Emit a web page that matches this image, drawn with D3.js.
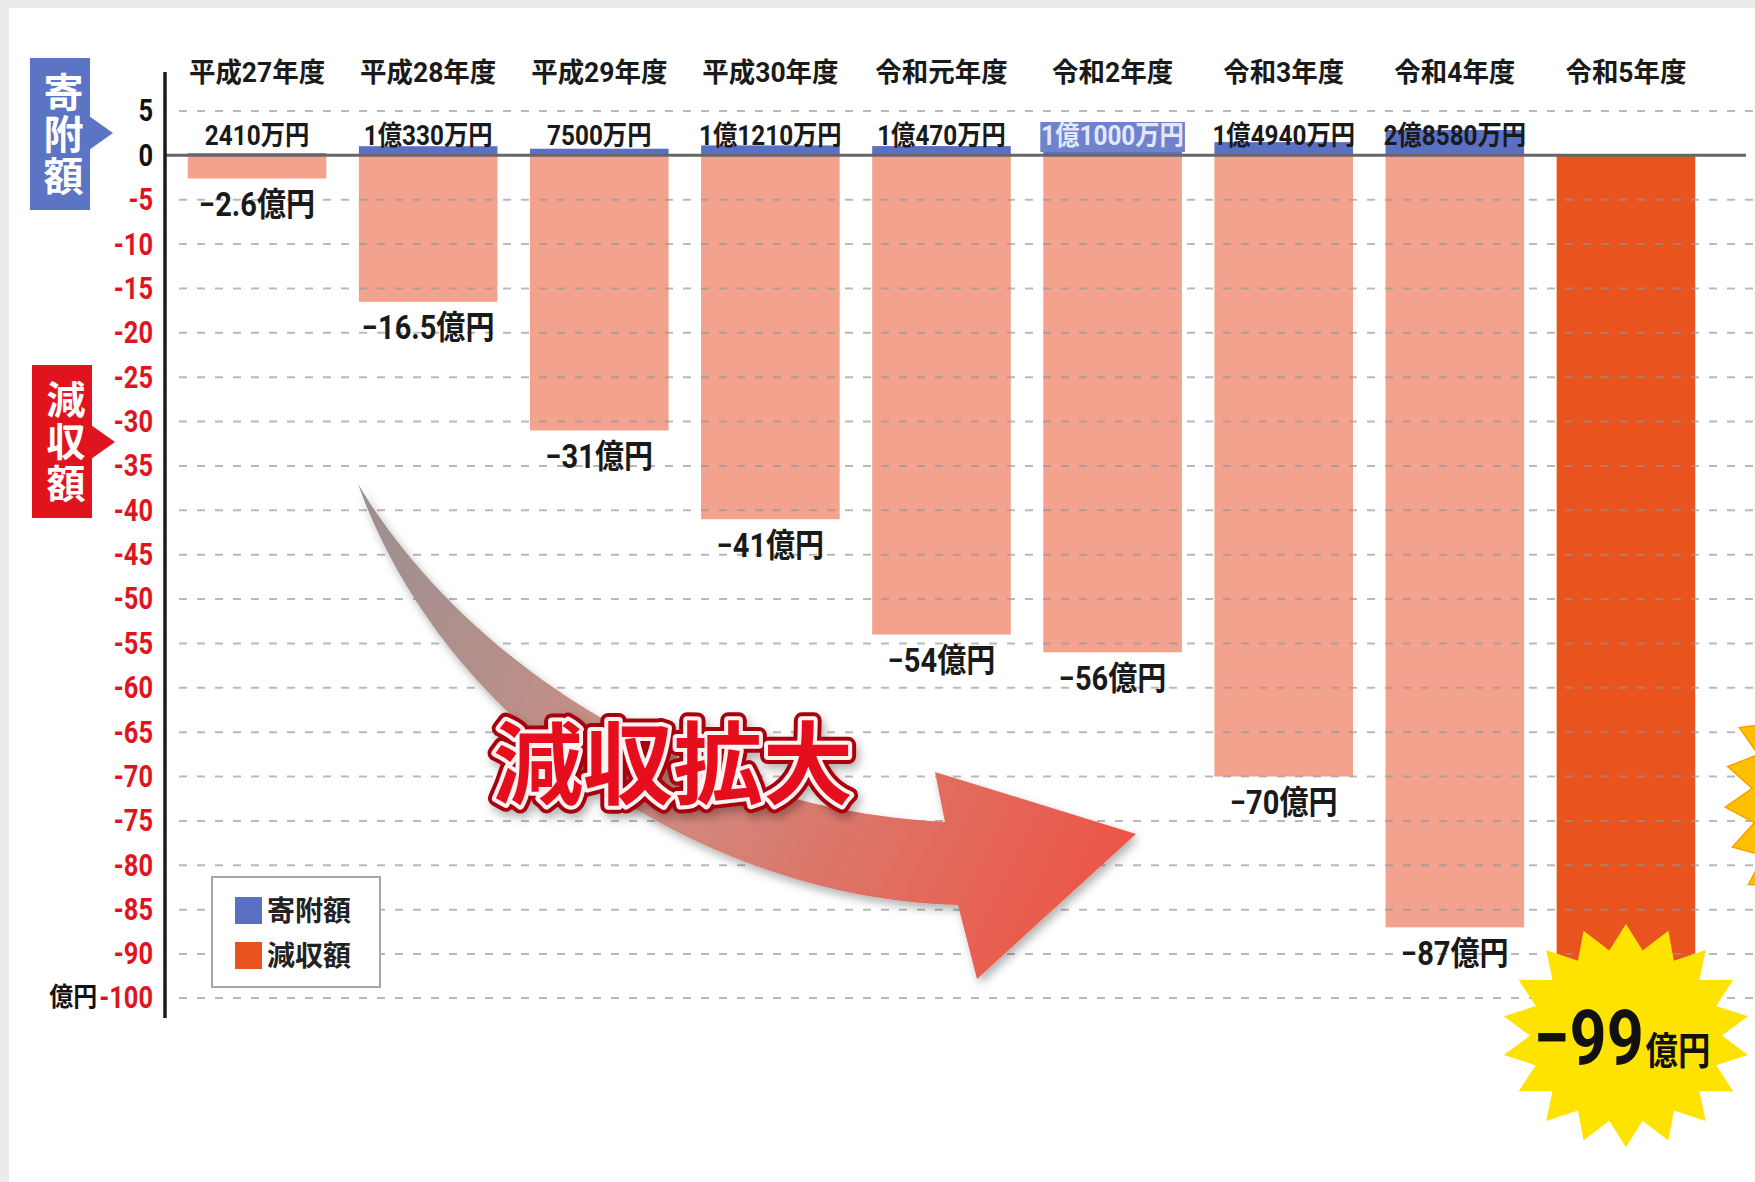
<!DOCTYPE html>
<html>
<head>
<meta charset="utf-8">
<script src="https://cdn.jsdelivr.net/npm/d3@7"></script>
<style>
  body { margin: 0; background: #ebebeb; }
  svg { display: block; }
  text { font-family: Roboto, "Noto Sans CJK JP", sans-serif; font-weight: 700; }
</style>
</head>
<body>
<svg></svg>
<script>
// Data =======================================================================

const years = ["平成27年度", "平成28年度", "平成29年度", "平成30年度", "令和元年度",
  "令和2年度", "令和3年度", "令和4年度", "令和5年度"];
// 寄附額 (億円) and its printed labels
const donations = [0.241, 1.033, 0.75, 1.121, 1.047, 1.1, 1.494, 2.858, null];
const donationLabels = ["2410万円", "1億330万円", "7500万円", "1億1210万円", "1億470万円",
  "1億1000万円", "1億4940万円", "2億8580万円", ""];
// 減収額 (億円)
const losses = [-2.6, -16.5, -31, -41, -54, -56, -70, -87, -99];
const tickValues = [5, 0, -5, -10, -15, -20, -25, -30, -35, -40, -45, -50,
  -55, -60, -65, -70, -75, -80, -85, -90, -100];
const highlightYear = "令和2年度";

// Setup ======================================================================

const W = 1755, H = 1182;
const red = "#e0141e", blue = "#5a70c2", pink = "#f2a28d", orange = "#e9531d";

const svg = d3.select("svg").attr("width", W).attr("height", H);

svg.append("rect")
  .attr("x", 9).attr("y", 8)
  .attr("width", W - 9).attr("height", H - 8)
  .attr("fill", "#fff");

const defs = svg.append("defs");

const x = d3.scaleBand()
  .domain(years)
  .range([171.5, 1711.5])
  .paddingInner(0.19)
  .paddingOuter(0.095);

// the axis skips -95, so -100 sits right after -90
const y = d3.scaleLinear()
  .domain([5, -90, -100])
  .range([111, 954, 998]);

// squash text horizontally to look like the condensed face of the original
function squeeze(sel, k) {
  sel.each(function () {
    const w = this.getComputedTextLength();
    d3.select(this).attr("textLength", w * k).attr("lengthAdjust", "spacingAndGlyphs");
  });
}

// Bars =======================================================================

svg.append("g")
  .selectAll("rect")
  .data(losses)
  .join("rect")
  .attr("x", (d, i) => x(years[i]))
  .attr("y", y(0))
  .attr("width", x.bandwidth())
  .attr("height", d => y(d) - y(0))
  .attr("fill", (d, i) => i === losses.length - 1 ? orange : pink);

const donationRows = years.map((yr, i) => ({ year: yr, v: donations[i], label: donationLabels[i] }));

svg.append("g")
  .selectAll("rect")
  .data(donationRows.filter(d => d.v != null))
  .join("rect")
  .attr("x", d => x(d.year))
  .attr("y", d => y(d.v))
  .attr("width", x.bandwidth())
  .attr("height", d => y(0) - y(d.v))
  .attr("fill", blue);

// Grid & axis ================================================================

svg.append("g")
  .selectAll("line")
  .data(tickValues.filter(t => t !== 0))
  .join("line")
  .attr("x1", 179).attr("x2", W)
  .attr("y1", d => y(d)).attr("y2", d => y(d))
  .attr("stroke", "#959595")
  .attr("stroke-width", 2)
  .attr("stroke-dasharray", "8 10")
  .attr("opacity", 0.65);

svg.append("line")
  .attr("x1", 165).attr("x2", 1746)
  .attr("y1", y(0)).attr("y2", y(0))
  .attr("stroke", "#666").attr("stroke-width", 3);

const yAxis = svg.append("g")
  .attr("transform", "translate(165,0)")
  .call(d3.axisLeft(y).tickValues(tickValues).tickSize(0).tickPadding(12).tickFormat(d => d));
yAxis.select(".domain").remove();
yAxis.selectAll("text")
  .attr("font-size", 31)
  .attr("font-family", 'Roboto, "Noto Sans CJK JP", sans-serif')
  .attr("font-weight", 700)
  .attr("fill", d => d >= 0 ? "#111" : red)
  .call(squeeze, 0.82);

const last = yAxis.selectAll("text").filter(d => d === -100);
const lastW = +last.attr("textLength");
svg.append("text")
  .attr("x", 165 - 12 - lastW - 2)
  .attr("y", y(-100))
  .attr("dy", "0.32em")
  .attr("text-anchor", "end")
  .attr("font-size", 26)
  .attr("fill", "#111")
  .text("億円")
  .call(squeeze, 0.92);

svg.append("line")
  .attr("x1", 165).attr("x2", 165)
  .attr("y1", 72).attr("y2", 1018)
  .attr("stroke", "#1a1a1a").attr("stroke-width", 3.5);

// Labels =====================================================================

svg.append("g")
  .selectAll("text")
  .data(years)
  .join("text")
  .attr("x", d => x(d) + x.bandwidth() / 2)
  .attr("y", 73)
  .attr("text-anchor", "middle")
  .attr("dominant-baseline", "central")
  .attr("font-size", 27)
  .attr("fill", "#1a1a1a")
  .text(d => d)
  .call(squeeze, 0.98);

svg.append("g")
  .selectAll("rect")
  .data(donationRows.filter(d => d.year === highlightYear))
  .join("rect")
  .attr("x", d => x(d.year) - 3)
  .attr("y", 122)
  .attr("width", x.bandwidth() + 6)
  .attr("height", 30)
  .attr("fill", "#6f83cc");

svg.append("g")
  .selectAll("text")
  .data(donationRows)
  .join("text")
  .attr("x", d => x(d.year) + x.bandwidth() / 2)
  .attr("y", 136)
  .attr("text-anchor", "middle")
  .attr("dominant-baseline", "central")
  .attr("font-size", 27)
  .attr("fill", d => d.year === highlightYear ? "#e4e8ff" : "#1a1a1a")
  .text(d => d.label)
  .call(squeeze, 0.9);

svg.append("g")
  .selectAll("text")
  .data(losses.slice(0, -1))
  .join("text")
  .attr("x", (d, i) => x(years[i]) + x.bandwidth() / 2)
  .attr("y", d => y(d) + 26)
  .attr("text-anchor", "middle")
  .attr("dominant-baseline", "central")
  .attr("font-size", 33)
  .attr("fill", "#1a1a1a")
  .text(d => "−" + Math.abs(d) + "億円")
  .call(squeeze, 0.88);

// Side tags ==================================================================

function sideTag(x0, y0, h, tipY, color, label, midY, size, gap) {
  const g = svg.append("g");
  g.append("rect").attr("x", x0).attr("y", y0).attr("width", 60).attr("height", h).attr("fill", color);
  g.append("path")
    .attr("d", `M${x0 + 59},${tipY - 17}L${x0 + 83},${tipY}L${x0 + 59},${tipY + 17}Z`)
    .attr("fill", color);
  g.append("text")
    .attr("x", x0 + 30)
    .attr("y", midY)
    .attr("writing-mode", "vertical-rl")
    .attr("text-anchor", "middle")
    .attr("letter-spacing", gap)
    .attr("font-size", size)
    .attr("fill", "#fff")
    .text(label);
}
sideTag(30, 58, 152, 133, "#5b74c4", "寄附額", 135, 40, 2);
sideTag(32, 365, 153, 442, red, "減収額", 443, 39, 3);

// Trend arrow ================================================================

const grad = defs.append("linearGradient")
  .attr("id", "arrowGrad")
  .attr("gradientUnits", "userSpaceOnUse")
  .attr("x1", 358).attr("y1", 484).attr("x2", 1136).attr("y2", 860);
grad.append("stop").attr("offset", 0).attr("stop-color", "#9a9090");
grad.append("stop").attr("offset", 0.45).attr("stop-color", "#cf8e84");
grad.append("stop").attr("offset", 1).attr("stop-color", "#ee5444");

const shadow = defs.append("filter").attr("id", "shadow").attr("x", "-20%").attr("y", "-20%")
  .attr("width", "140%").attr("height", "140%");
shadow.append("feDropShadow").attr("dx", 3).attr("dy", 5).attr("stdDeviation", 5)
  .attr("flood-color", "#000").attr("flood-opacity", 0.3);

const ap = d3.path();
ap.moveTo(358, 484);
ap.bezierCurveTo(470, 670, 700, 810, 945, 822);
ap.lineTo(935, 772);
ap.lineTo(1136, 834);
ap.lineTo(977, 979);
ap.lineTo(958, 905);
ap.bezierCurveTo(720, 900, 450, 740, 358, 484);
ap.closePath();

svg.append("path")
  .attr("d", ap.toString())
  .attr("fill", "url(#arrowGrad)")
  .attr("filter", "url(#shadow)");

// 減収拡大 =====================================================================

const banner = svg.append("g").attr("filter", "url(#shadow)");
[["#a8000e", 16], ["#fff2f2", 8], [null, 0]].forEach(([stroke, sw]) => {
  banner.append("text")
    .attr("x", 673).attr("y", 766)
    .attr("text-anchor", "middle")
    .attr("dominant-baseline", "central")
    .attr("font-family", '"Noto Sans CJK JP", sans-serif')
    .attr("font-weight", 900)
    .attr("font-size", 90)
    .attr("fill", "#e60e1c")
    .attr("stroke", stroke || "none")
    .attr("stroke-width", sw)
    .attr("stroke-linejoin", "round")
    .text("減収拡大");
});

// Legend =====================================================================

const legend = svg.append("g").attr("transform", "translate(212,877)");
legend.append("rect")
  .attr("width", 168).attr("height", 110)
  .attr("fill", "#fff").attr("stroke", "#a8a8a8").attr("stroke-width", 2);
legend.selectAll("g")
  .data([["寄附額", blue], ["減収額", orange]])
  .join("g")
  .attr("transform", (d, i) => `translate(23,${20 + i * 45})`)
  .call(g => g.append("rect").attr("width", 27).attr("height", 27).attr("fill", d => d[1]))
  .call(g => g.append("text")
    .attr("x", 32).attr("y", 14)
    .attr("dominant-baseline", "central")
    .attr("font-size", 28)
    .attr("fill", "#222")
    .text(d => d[0]));

// Starbursts =================================================================

function starPath(n, r0, r1) {
  const pts = d3.range(n * 2).map(i => [i * Math.PI / n, i % 2 ? r1 : r0]);
  return d3.lineRadial().curve(d3.curveLinearClosed)(pts);
}

// partial burst peeking in at the right edge
svg.append("path")
  .attr("transform", "translate(1900,797)")
  .attr("d", starPath(27, 175, 148))
  .attr("fill", "#fcc000")
  .attr("stroke", "#f5a000").attr("stroke-width", 1.5);

// the callout sits a little under the end of the last bar
const lastYear = years[years.length - 1];
const lastLoss = losses[losses.length - 1];
const cx = x(lastYear) + x.bandwidth() / 2, cy = y(lastLoss) + 42;

svg.append("path")
  .attr("transform", `translate(${cx},${cy}) scale(1,0.9)`)
  .attr("d", starPath(18, 124, 96))
  .attr("fill", "#ffe300");

const big = svg.append("text")
  .attr("x", cx - 4)
  .attr("y", cy + 28)
  .attr("text-anchor", "middle")
  .attr("fill", "#111");
big.append("tspan").attr("font-size", 76).text("−" + Math.abs(lastLoss));
big.append("tspan").attr("font-size", 38).attr("dx", 2).text("億円");
big.call(squeeze, 0.86);
</script>
</body>
</html>
